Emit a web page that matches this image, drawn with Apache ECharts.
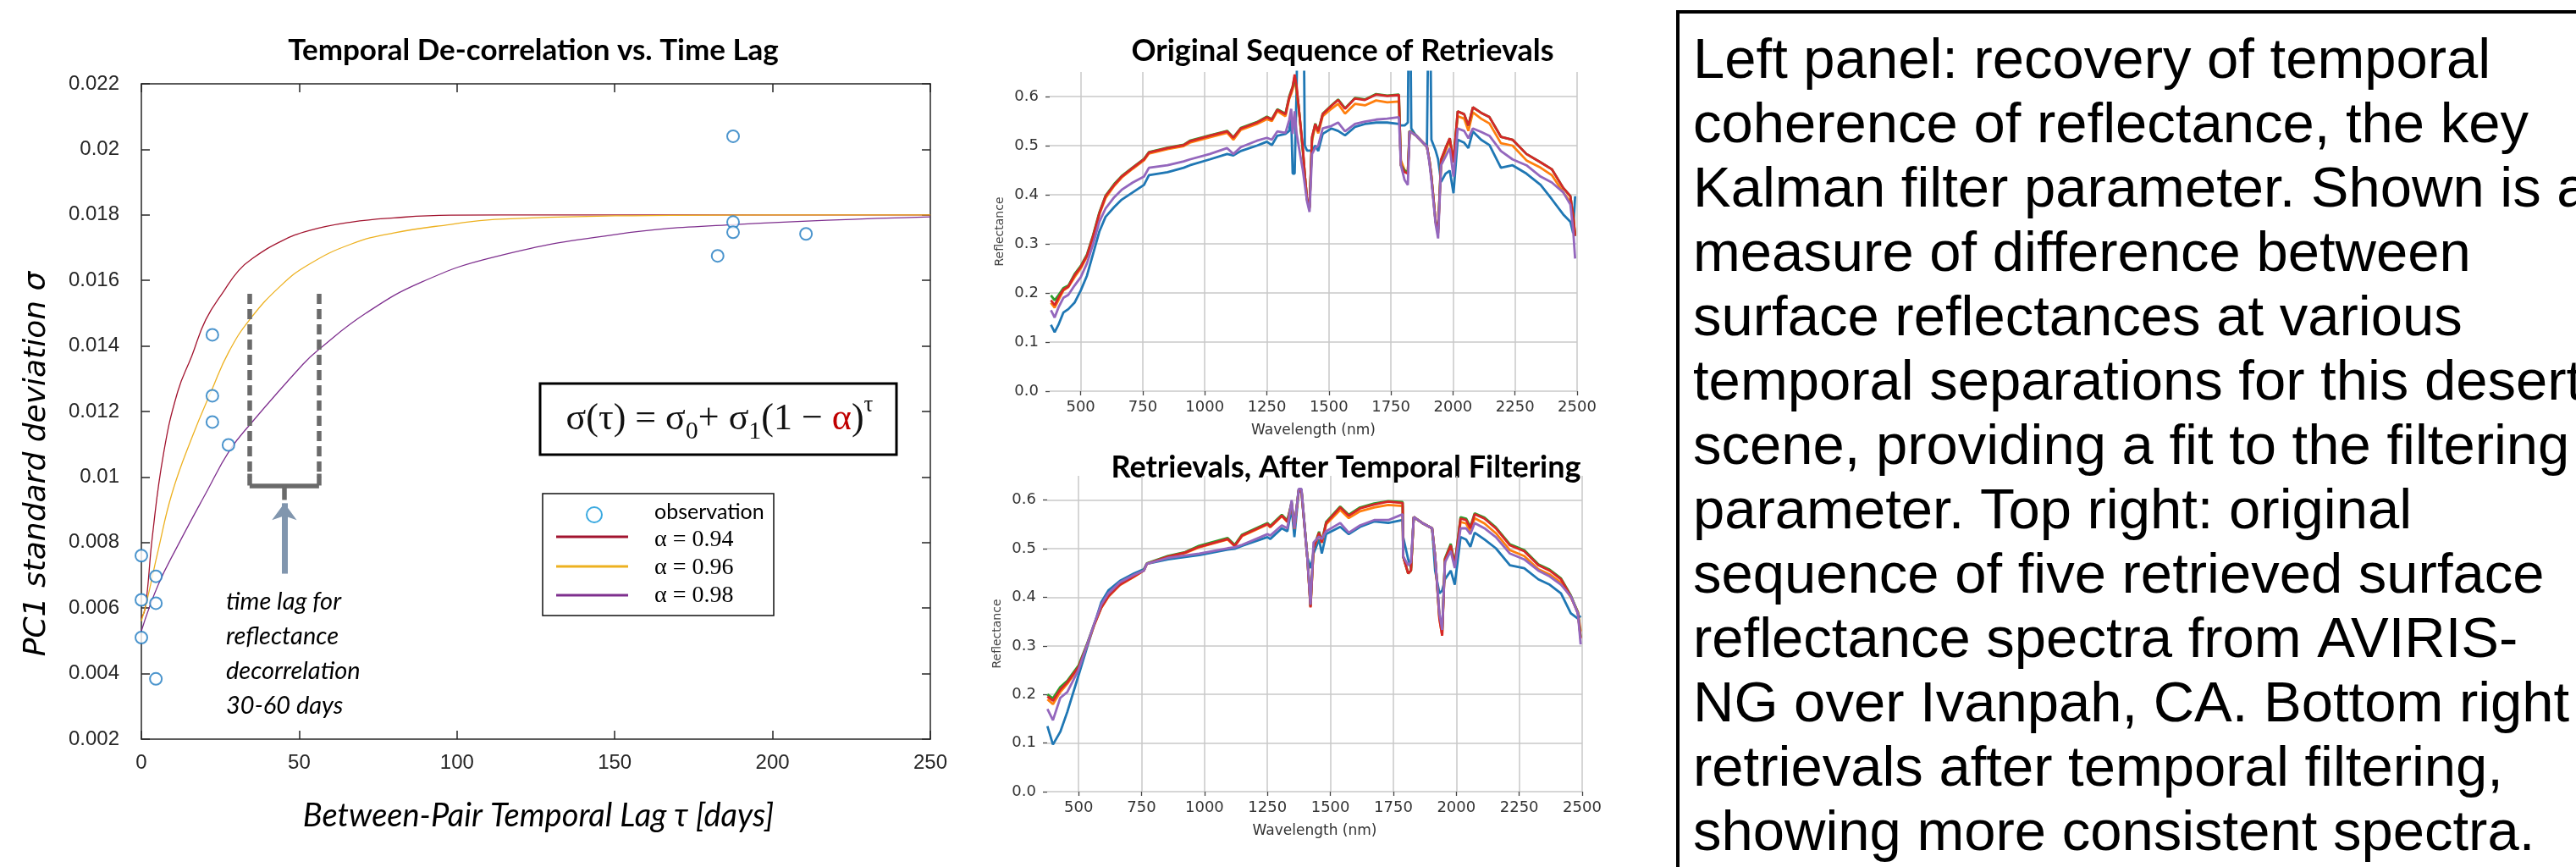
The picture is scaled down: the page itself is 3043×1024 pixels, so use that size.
<!DOCTYPE html>
<html>
<head>
<meta charset="utf-8">
<script src="https://cdn.jsdelivr.net/npm/echarts@6.0.0/dist/echarts.min.js"></script>
<style>
  html, body { margin: 0; padding: 0; background: #fff; }
  #chart { width: 3043px; height: 1024px; }
</style>
</head>
<body>
<div id="chart"></div>
<script>
// ---- left panel: decorrelation vs lag ----
const obsTau = [0, 0, 0, 4.6, 4.6, 4.6, 22.5, 22.5, 22.5, 27.6, 182.6, 187.5, 187.5, 187.5, 210.6];
const obsSigma = [0.0076, 0.00625, 0.0051, 0.00697, 0.00615, 0.00384, 0.01434, 0.01248, 0.01168, 0.01098, 0.01675, 0.0204, 0.01778, 0.01747, 0.01742];

const tau094 = [0, 1.25, 3.5, 7, 11.5, 16, 20.4, 26.3, 30.8, 35.2, 44.2, 53.1, 66.5, 80, 98, 130, 175, 250];
const sig094 = [0.0057, 0.006, 0.0082, 0.0107, 0.0126, 0.0137, 0.0148, 0.0157, 0.0163, 0.01667, 0.01719, 0.01752, 0.01778, 0.01791, 0.01799, 0.018, 0.018, 0.018];

const tau096 = [0, 1.7, 5.3, 9.7, 16, 22.5, 27.6, 34.3, 44.2, 53.1, 66.5, 80, 98, 112, 150, 200, 250];
const sig096 = [0.0056, 0.0062, 0.00775, 0.0095, 0.0112, 0.0127, 0.0138, 0.0148, 0.01584, 0.01649, 0.01711, 0.01745, 0.01771, 0.01786, 0.01797, 0.018, 0.018];

const tau098 = [0, 5.3, 11.5, 20.4, 27.9, 34.4, 51.2, 56.3, 71, 88.8, 112, 150, 187.5, 250];
const sig098 = [0.0053, 0.0067, 0.0079, 0.0095, 0.0108, 0.0116, 0.01344, 0.0139, 0.01499, 0.01595, 0.01672, 0.0174, 0.0177, 0.01794];

// ---- spectra: original sequence ----
const wlTop = [380, 395, 410, 430, 450, 475, 500, 525, 550, 575, 600, 635, 665, 710, 755, 775, 850, 915, 940, 1020,
  1090, 1115, 1145, 1210, 1250, 1270, 1292, 1325, 1340, 1348, 1354, 1362, 1370, 1378, 1395, 1403, 1412, 1422, 1432, 1445,
  1457, 1475, 1510, 1537, 1565, 1605, 1645, 1690, 1735, 1782, 1790, 1805, 1818, 1825, 1832, 1850, 1895, 1905, 1913, 1930,
  1940, 1952, 1970, 1987, 2002, 2019, 2045, 2062, 2080, 2113, 2147, 2193, 2240, 2296, 2353, 2398, 2444, 2473, 2484, 2492];
const blueTop = [.135, .120, .135, .160, .167, .180, .205, .235, .280, .325, .355, .375, .390, .405, .420, .440, .446, .455, .460, .472,
  .483, .480, .489, .500, .508, .501, .520, .524, .530, .560, .443, .443, .620, .950, .950, .500, .490, .490, .490, .500,
  .489, .524, .535, .530, .521, .538, .544, .547, .547, .544, .541, .541, .547, .950, .535, .521, .498, .950, .512, .490,
  .472, .426, .443, .449, .403, .512, .506, .495, .529, .512, .501, .455, .460, .443, .420, .391, .360, .345, .322, .397];
const orangeTop = [.180, .170, .185, .205, .212, .232, .250, .274, .312, .360, .393, .418, .435, .453, .470, .484, .493, .499, .506, .517,
  .526, .512, .532, .544, .554, .550, .570, .560, .595, .605, .615, .635, .610, .580, .490, .440, .390, .375, .510, .540,
  .525, .560, .575, .585, .565, .585, .582, .592, .588, .590, .470, .450, .445, .529, .528, .521, .498, .470, .437, .345,
  .330, .460, .490, .510, .470, .560, .555, .530, .568, .555, .545, .505, .500, .470, .455, .440, .405, .385, .360, .320];
const greenTop = [.195, .185, .195, .210, .215, .238, .255, .278, .318, .364, .398, .422, .438, .456, .473, .487, .496, .502, .510, .521,
  .530, .517, .536, .548, .559, .554, .574, .565, .600, .612, .620, .640, .615, .580, .490, .440, .390, .375, .515, .545,
  .530, .565, .582, .594, .576, .597, .594, .605, .602, .604, .460, .450, .445, .530, .528, .521, .498, .470, .437, .345,
  .330, .470, .495, .515, .466, .570, .564, .541, .578, .567, .558, .518, .512, .483, .466, .452, .414, .397, .357, .316];
const redTop = [.185, .175, .190, .207, .213, .236, .253, .276, .316, .362, .397, .420, .437, .455, .472, .486, .495, .501, .509, .520,
  .529, .516, .535, .547, .558, .553, .573, .564, .598, .610, .620, .645, .620, .580, .495, .440, .391, .372, .518, .544,
  .529, .564, .581, .593, .575, .596, .593, .604, .601, .603, .460, .446, .443, .529, .527, .521, .498, .470, .437, .345,
  .322, .472, .495, .515, .466, .570, .564, .541, .578, .567, .558, .518, .512, .483, .466, .452, .414, .397, .357, .316];
const purpleTop = [.165, .150, .170, .190, .196, .215, .232, .260, .300, .345, .372, .395, .410, .425, .437, .455, .460, .468, .472, .483,
  .495, .483, .497, .510, .516, .512, .529, .526, .552, .575, .524, .570, .524, .500, .450, .420, .386, .365, .483, .495,
  .500, .535, .540, .547, .529, .544, .549, .553, .555, .558, .460, .430, .420, .529, .527, .521, .498, .465, .430, .340,
  .311, .460, .478, .495, .437, .535, .530, .515, .535, .528, .520, .489, .472, .460, .437, .425, .405, .380, .330, .270];

// ---- spectra: after temporal filtering ----
const wlBot = [376, 398, 427, 455, 500, 534, 562, 590, 618, 664, 720, 759, 771, 855, 923, 979, 1092, 1120, 1149, 1250,
  1261, 1307, 1329, 1346, 1357, 1374, 1385, 1408, 1421, 1433, 1455, 1466, 1483, 1539, 1573, 1618, 1674, 1730, 1787, 1789,
  1809, 1820, 1831, 1865, 1904, 1916, 1933, 1944, 1955, 1978, 1994, 2017, 2039, 2056, 2073, 2112, 2157, 2213, 2270, 2326,
  2371, 2416, 2455, 2483, 2494];
const blueBot = [.135, .097, .123, .164, .240, .298, .344, .390, .414, .434, .449, .458, .469, .478, .483, .487, .498, .500, .506, .524,
  .520, .542, .536, .583, .524, .617, .617, .484, .460, .490, .519, .490, .530, .545, .530, .545, .556, .553, .559, .524,
  .478, .460, .565, .553, .542, .455, .408, .414, .437, .455, .426, .524, .519, .504, .533, .519, .501, .466, .460, .437,
  .426, .408, .367, .356, .362];
const orangeBot = [.190, .180, .205, .222, .255, .302, .343, .378, .401, .425, .442, .455, .469, .483, .491, .503, .519, .505, .526, .550,
  .544, .567, .555, .593, .541, .620, .620, .484, .380, .500, .530, .512, .550, .580, .563, .577, .585, .590, .588, .484,
  .449, .455, .565, .553, .542, .484, .356, .321, .478, .505, .463, .555, .552, .535, .563, .552, .532, .497, .485, .458,
  .447, .430, .400, .370, .330];
const greenBot = [.200, .192, .215, .228, .260, .305, .345, .380, .403, .427, .444, .456, .470, .485, .493, .506, .522, .508, .529, .553,
  .547, .570, .558, .596, .544, .622, .622, .486, .382, .502, .535, .515, .555, .587, .570, .585, .593, .598, .596, .484,
  .449, .455, .565, .553, .542, .484, .360, .330, .480, .510, .468, .565, .562, .545, .573, .564, .544, .509, .497, .468,
  .457, .439, .404, .369, .318];
const redBot = [.196, .187, .210, .225, .257, .303, .344, .379, .402, .426, .443, .455, .469, .484, .492, .504, .520, .506, .527, .551,
  .545, .568, .556, .594, .542, .620, .620, .484, .379, .501, .533, .513, .553, .585, .568, .583, .591, .597, .594, .484,
  .449, .455, .565, .553, .542, .484, .356, .321, .478, .507, .466, .562, .559, .542, .571, .562, .542, .507, .495, .466,
  .455, .437, .402, .367, .315];
const purpleBot = [.170, .147, .193, .205, .251, .303, .346, .385, .408, .431, .446, .455, .469, .481, .486, .490, .501, .503, .508, .530,
  .527, .548, .542, .600, .542, .623, .623, .484, .385, .513, .525, .520, .536, .553, .533, .548, .559, .559, .571, .484,
  .466, .472, .565, .553, .542, .484, .367, .333, .472, .495, .460, .542, .542, .530, .553, .542, .524, .490, .478, .455,
  .443, .426, .402, .367, .303];

const wlTicks = [500, 750, 1000, 1250, 1500, 1750, 2000, 2250, 2500];
const reflTicks = [0, 0.1, 0.2, 0.3, 0.4, 0.5, 0.6];

const specColors = ["#1f77b4", "#ff7f0e", "#2ca02c", "#d62728", "#9467bd"];

const caption = [
  "Left panel: recovery of temporal",
  "coherence of reflectance, the key",
  "Kalman filter parameter. Shown is a",
  "measure of difference between",
  "surface reflectances at various",
  "temporal separations for this desert",
  "scene, providing a fit to the filtering",
  "parameter. Top right: original",
  "sequence of five retrieved surface",
  "reflectance spectra from AVIRIS-",
  "NG over Ivanpah, CA. Bottom right",
  "retrievals after temporal filtering,",
  "showing more consistent spectra."
];

function pairs(xs, ys) {
  return xs.map((x, i) => [x, ys[i]]);
}

const axisDark = "#262626";

function matlabX(pos, showLabel) {
  return {
    type: "value", gridIndex: 0, position: pos, min: 0, max: 250, interval: 50,
    axisLine: { onZero: false, lineStyle: { color: axisDark, width: 1.5 } },
    axisTick: { inside: true, length: 10, lineStyle: { color: axisDark, width: 1.5 } },
    axisLabel: { show: showLabel, fontSize: 24, fontFamily: "Liberation Sans", color: axisDark, margin: 16 },
    splitLine: { show: false }
  };
}

function matlabY(pos, showLabel) {
  return {
    type: "value", gridIndex: 0, position: pos, min: 0.002, max: 0.022, interval: 0.002,
    axisLine: { onZero: false, lineStyle: { color: axisDark, width: 1.5 } },
    axisTick: { inside: true, length: 10, lineStyle: { color: axisDark, width: 1.5 } },
    axisLabel: {
      show: showLabel, fontSize: 24, fontFamily: "Liberation Sans", color: axisDark, margin: 26,
      formatter: (v) => String(+v.toFixed(3))
    },
    splitLine: { show: false }
  };
}

function specX(gridIndex) {
  return {
    type: "value", gridIndex, min: 375, max: 2500,
    axisLine: { show: false },
    axisTick: { show: true, customValues: wlTicks, length: 5, lineStyle: { color: "#444", width: 1.3 } },
    axisLabel: {
      customValues: wlTicks, fontSize: 18, fontFamily: "DejaVu Sans", color: "#333", margin: 10,
      formatter: (v) => String(v)
    },
    splitLine: { show: true, lineStyle: { color: "#c8c8c8", width: 1.5 } },
    name: "Wavelength (nm)", nameLocation: "middle", nameGap: 38,
    nameTextStyle: { fontSize: 17, fontFamily: "DejaVu Sans", color: "#333" }
  };
}

function specY(gridIndex) {
  return {
    type: "value", gridIndex, min: 0, max: 0.65,
    axisLine: { show: false },
    axisTick: { show: true, customValues: reflTicks, length: 5, lineStyle: { color: "#444", width: 1.3 } },
    axisLabel: {
      customValues: reflTicks, fontSize: 18, fontFamily: "DejaVu Sans", color: "#333", margin: 13,
      formatter: (v) => v.toFixed(1)
    },
    splitLine: { show: true, lineStyle: { color: "#c8c8c8", width: 1.5 } },
    name: "Reflectance", nameLocation: "middle", nameGap: 52,
    nameTextStyle: { fontSize: 14, fontFamily: "DejaVu Sans", color: "#444" }
  };
}

function specSeries(axisIndex, wl, rows) {
  return rows.map((vals, i) => ({
    type: "line",
    xAxisIndex: axisIndex, yAxisIndex: axisIndex,
    data: pairs(wl, vals),
    showSymbol: false,
    clip: true,
    lineStyle: { color: specColors[i], width: 2.8 },
    z: 2 + i
  }));
}

function seg(a, b, style, endSymbol) {
  return [
    { coord: a, symbol: "none", lineStyle: style },
    { coord: b, symbol: endSymbol || "none", symbolSize: [22, 20] }
  ];
}

const dashStyle = { color: "#6a6a6a", width: 5.5, type: [12, 6] };
const bracketStyle = { color: "#6a6a6a", width: 5.5, type: "solid" };
const arrowStyle = { color: "#8196ae", width: 7, type: "solid" };

const chart = echarts.init(document.getElementById("chart"), null, { renderer: "canvas" });

const option = {
  animation: false,
  backgroundColor: "#fff",
  grid: [
    { left: 167, top: 99, width: 932, height: 774 },
    { left: 1240, top: 85, width: 623, height: 377 },
    { left: 1237, top: 562, width: 632, height: 373 }
  ],
  xAxis: [matlabX("bottom", true), matlabX("top", false), specX(1), specX(2)],
  yAxis: [matlabY("left", true), matlabY("right", false), specY(1), specY(2)],
  series: [
    {
      name: "α = 0.94", type: "line", xAxisIndex: 0, yAxisIndex: 0,
      data: pairs(tau094, sig094), smooth: 0.45, showSymbol: false,
      lineStyle: { color: "#A2142F", width: 1.3 }
    },
    {
      name: "α = 0.96", type: "line", xAxisIndex: 0, yAxisIndex: 0,
      data: pairs(tau096, sig096), smooth: 0.45, showSymbol: false,
      lineStyle: { color: "#EDB120", width: 1.3 }
    },
    {
      name: "α = 0.98", type: "line", xAxisIndex: 0, yAxisIndex: 0,
      data: pairs(tau098, sig098), smooth: 0.45, showSymbol: false,
      lineStyle: { color: "#7E2F8E", width: 1.3 }
    },
    {
      name: "observation", type: "scatter", xAxisIndex: 0, yAxisIndex: 0,
      data: pairs(obsTau, obsSigma), symbol: "emptyCircle", symbolSize: 14,
      itemStyle: { color: "#1f7bc0", borderWidth: 2.2 }, z: 5
    },
    {
      // bracket + arrow annotation (data coordinates)
      type: "line", xAxisIndex: 0, yAxisIndex: 0, data: [], z: 6,
      markLine: {
        silent: true, animation: false, label: { show: false }, emphasis: { disabled: true },
        data: [
          seg([34.3, 0.01559], [34.3, 0.0100], dashStyle),
          seg([56.3, 0.01559], [56.3, 0.0100], dashStyle),
          seg([34.3, 0.0101], [34.3, 0.00974], bracketStyle),
          seg([56.3, 0.0101], [56.3, 0.00974], bracketStyle),
          seg([34.3, 0.00974], [56.3, 0.00974], bracketStyle),
          seg([45.3, 0.00974], [45.3, 0.0093], bracketStyle),
          seg([45.3, 0.00705], [45.3, 0.0092], arrowStyle, "arrow")
        ]
      }
    },
    ...specSeries(2, wlTop, [blueTop, orangeTop, greenTop, redTop, purpleTop]),
    ...specSeries(3, wlBot, [blueBot, orangeBot, greenBot, redBot, purpleBot])
  ],
  graphic: [
    // titles
    {
      type: "text", x: 630, y: 60,
      style: { text: "Temporal De-correlation vs. Time Lag", font: "bold 35px Lato", fill: "#000", align: "center", verticalAlign: "middle" }
    },
    {
      type: "text", x: 1586, y: 60,
      style: { text: "Original Sequence of Retrievals", font: "bold 36px Lato", fill: "#000", align: "center", verticalAlign: "middle" }
    },
    {
      type: "text", x: 1590, y: 552,
      style: { text: "Retrievals, After Temporal Filtering", font: "bold 36px Lato", fill: "#000", align: "center", verticalAlign: "middle" }
    },
    // left axis titles
    {
      type: "text", x: 636, y: 964,
      style: { text: "Between-Pair Temporal Lag τ [days]", font: "italic 38px Lato", fill: "#000", align: "center", verticalAlign: "middle" }
    },
    {
      type: "text", x: 44, y: 548, rotation: Math.PI / 2,
      style: { text: "PC1 standard deviation σ", font: "oblique 36px 'DejaVu Sans'", fill: "#000", align: "center", verticalAlign: "middle" }
    },
    // annotation text
    {
      type: "text", x: 267, y: 690, z: 10,
      style: { text: "time lag for\nreflectance\ndecorrelation\n30-60 days", font: "italic 29px Lato", lineHeight: 41, fill: "#000", verticalAlign: "top" }
    },
    // formula box
    {
      type: "rect", z: 10,
      shape: { x: 638, y: 453, width: 421, height: 84 },
      style: { fill: "#fff", stroke: "#000", lineWidth: 3 }
    },
    {
      type: "text", x: 850, y: 495, z: 11,
      style: {
        text: "{b|σ(τ) = σ}{s|0}{b|+ σ}{s|1}{b|(1 − }{r|α}{b|)}{p|τ}",
        align: "center", verticalAlign: "middle",
        rich: {
          b: { font: "44px 'Liberation Serif'", fill: "#111", lineHeight: 60, verticalAlign: "middle" },
          r: { font: "44px 'Liberation Serif'", fill: "#c00000", lineHeight: 60, verticalAlign: "middle" },
          s: { font: "30px 'Liberation Serif'", fill: "#111", lineHeight: 30, verticalAlign: "bottom" },
          p: { font: "27px 'Liberation Serif'", fill: "#111", lineHeight: 28, verticalAlign: "top" }
        }
      }
    },
    // legend box
    {
      type: "rect", z: 10,
      shape: { x: 641, y: 583, width: 273, height: 144 },
      style: { fill: "#fff", stroke: "#111", lineWidth: 1.5 }
    },
    {
      type: "circle", z: 11, shape: { cx: 702, cy: 608, r: 9 },
      style: { fill: "none", stroke: "#3aa9e0", lineWidth: 2 }
    },
    {
      type: "text", x: 773, y: 605, z: 11,
      style: { text: "observation", font: "25px Lato", fill: "#000", verticalAlign: "middle" }
    },
    { type: "line", z: 11, shape: { x1: 657, y1: 634, x2: 742, y2: 634 }, style: { stroke: "#A2142F", lineWidth: 3 } },
    { type: "line", z: 11, shape: { x1: 657, y1: 669, x2: 742, y2: 669 }, style: { stroke: "#EDB120", lineWidth: 3 } },
    { type: "line", z: 11, shape: { x1: 657, y1: 703, x2: 742, y2: 703 }, style: { stroke: "#7E2F8E", lineWidth: 3 } },
    {
      type: "text", x: 773, y: 638, z: 11,
      style: { text: "α = 0.94", font: "28px 'Liberation Serif'", fill: "#000", verticalAlign: "middle" }
    },
    {
      type: "text", x: 773, y: 671, z: 11,
      style: { text: "α = 0.96", font: "28px 'Liberation Serif'", fill: "#000", verticalAlign: "middle" }
    },
    {
      type: "text", x: 773, y: 704, z: 11,
      style: { text: "α = 0.98", font: "28px 'Liberation Serif'", fill: "#000", verticalAlign: "middle" }
    },
    // caption box on the right
    {
      type: "rect",
      shape: { x: 1982, y: 14, width: 1150, height: 1100 },
      style: { fill: "#fff", stroke: "#000", lineWidth: 4 }
    },
    {
      type: "text", x: 2000, y: 36,
      style: { text: caption.join("\n"), font: "67px 'Liberation Sans'", lineHeight: 76, fill: "#000", verticalAlign: "top" }
    }
  ]
};

chart.setOption(option);
</script>
</body>
</html>
